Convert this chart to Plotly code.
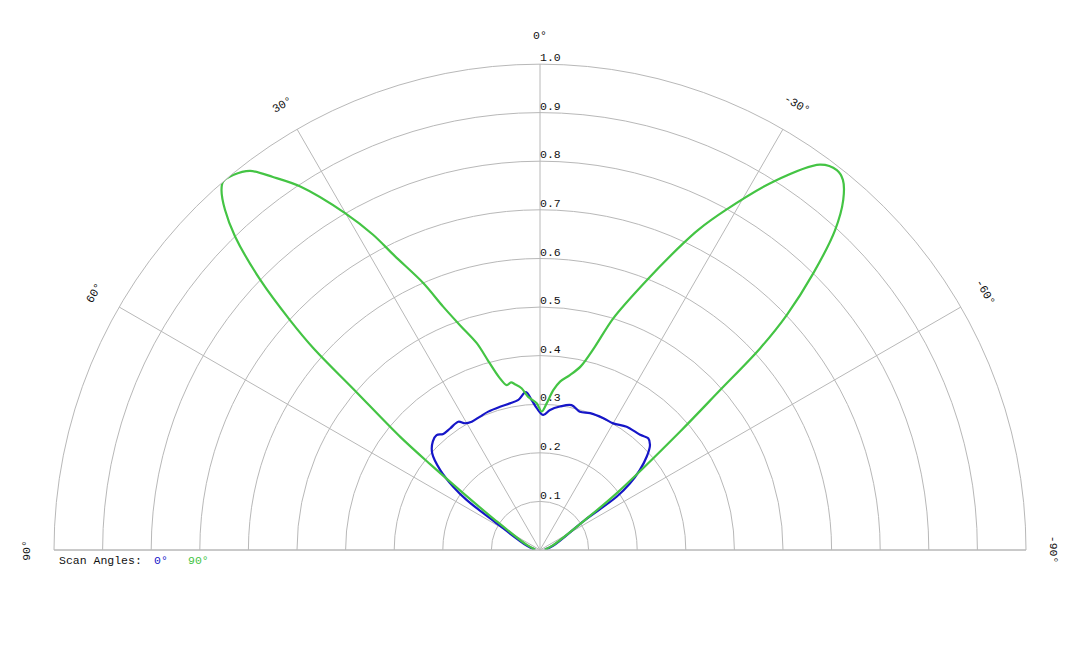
import math
import plotly.graph_objects as go

# scan angle 0 deg (blue)
theta_0 = [85, 72, 58.1, 55.7, 53.9, 51.3, 48.1, 44.6, 42.0, 39.8, 36.5, 32.5, 30.6, 28.0,
           24.2, 20.5, 15.6, 11.6, 8.2, 5.1, 3.2, 1.3, -1.4, -4.1, -7.9, -12.3, -16.1,
           -20.1, -25.7, -30.05, -35.1, -41.0, -44.1, -46.3, -48.8, -51.3, -53.5, -55.2,
           -56.3, -72, -85]
r_0 = [0.01, 0.028, 0.109, 0.183, 0.221, 0.263, 0.298, 0.314, 0.318, 0.311, 0.311, 0.313,
       0.303, 0.299, 0.301, 0.304, 0.306, 0.308, 0.312, 0.326, 0.309, 0.292, 0.278, 0.289,
       0.298, 0.305, 0.296, 0.300, 0.301, 0.301, 0.310, 0.314, 0.320, 0.313, 0.292, 0.263,
       0.230, 0.192, 0.111, 0.028, 0.01]

# scan angle 90 deg (green)
theta_90 = [85, 69, 56.3, 53.5, 52.0, 51.0, 49.3, 48.3, 47.4, 46.0, 44.2, 42.8, 41.5, 40.7,
            39.3, 37.4, 35.6, 33.4, 30.05, 27.9, 26.3, 23.6, 21.7, 19.6, 17.0, 15.3,
            13.3, 11.4, 9.8, 8.6, 6.5, 4.4, 1.3, -0.7, -2.6, -4.75, -6.8, -9.7, -12.5,
            -15.1, -17.55, -21.6, -25.05, -26.3, -28.6, -32.35, -36.0, -38.0, -39.3, -40.9,
            -42.7, -44.65, -46.4, -47.5, -48.4, -49.8, -53.5, -56.3, -70, -85]
r_90 = [0.01, 0.029, 0.111, 0.196, 0.287, 0.370, 0.498, 0.625, 0.699, 0.800, 0.900, 0.954,
        0.989, 1.0, 0.997, 0.982, 0.944, 0.896, 0.801, 0.734, 0.675, 0.599, 0.539,
        0.491, 0.445, 0.403, 0.365, 0.346, 0.350, 0.345, 0.335, 0.316, 0.302, 0.285, 0.302,
        0.330, 0.349, 0.365, 0.387, 0.433, 0.500, 0.597, 0.697, 0.735, 0.796, 0.897, 0.980,
        0.992, 0.984, 0.953, 0.895, 0.800, 0.701, 0.614, 0.495, 0.377, 0.196, 0.111, 0.028,
        0.01]

r_ticks = [0.1, 0.2, 0.3, 0.4, 0.5, 0.6, 0.7, 0.8, 0.9, 1.0]
r_tick_text = ["0.1", "0.2", "0.3", "0.4", "0.5", "0.6", "0.7", "0.8", "0.9", "1.0"]
angle_ticks = [90, 60, 30, 0, -30, -60, -90]
angle_text = ["90°", "60°", "30°", "0°", "-30°", "-60°", "-90°"]

BLUE = "#1616c8"
GREEN = "#44c444"
FONT = "Liberation Mono"

fig = go.Figure()
fig.add_trace(go.Scatterpolar(r=r_0, theta=theta_0, mode="lines",
                              line=dict(color=BLUE, width=2.2, shape="spline", smoothing=1.0)))
fig.add_trace(go.Scatterpolar(r=r_90, theta=theta_90, mode="lines",
                              line=dict(color=GREEN, width=2.2, shape="spline", smoothing=0.9)))
# radial labels along the 0 deg spoke
fig.add_trace(go.Scatterpolar(r=r_ticks, theta=[0] * len(r_ticks), mode="text",
                              text=r_tick_text, textposition="top right",
                              textfont=dict(family=FONT, size=11.5, color="#111")))

# page body adds 8px, so the margins are shifted to keep the centre at 540,550
fig.update_layout(
    width=1080, height=648,
    margin=dict(l=46, r=62, t=56, b=106),
    paper_bgcolor="white",
    showlegend=False,
    polar=dict(
        bgcolor="white",
        sector=[0, 180],
        domain=dict(x=[0, 1], y=[0, 1]),
        angularaxis=dict(rotation=90, direction="counterclockwise",
                         tickvals=angle_ticks, showticklabels=False, ticks="",
                         gridcolor="#b8b8b8", gridwidth=1,
                         linecolor="#b8b8b8", linewidth=1),
        radialaxis=dict(range=[0, 1], tickvals=r_ticks, showticklabels=False,
                        ticks="", showline=False, gridcolor="#b8b8b8", gridwidth=1),
    ),
)

# angle labels, rotated along the outer arc
anns = []
for a, txt in zip(angle_ticks, angle_text):
    rr = 1.058
    anns.append(dict(x=0.5 - 0.5 * rr * math.sin(math.radians(a)),
                     y=rr * math.cos(math.radians(a)),
                     xref="paper", yref="paper", text=txt, showarrow=False,
                     xanchor="center", yanchor="middle",
                     textangle=-a, font=dict(family=FONT, size=11.5, color="#111")))

# scan angle key (pixel positions, converted to paper fractions)
key = [("Scan Angles:", 57, "#111"), ("0°", 152, BLUE), ("90°", 186, GREEN)]
for txt, px, col in key:
    anns.append(dict(x=(px - 54) / 972, y=(550 - 560) / 486, xref="paper", yref="paper",
                     text=txt, showarrow=False, xanchor="left", yanchor="middle",
                     font=dict(family=FONT, size=11.5, color=col)))
fig.update_layout(annotations=anns)

fig.write_html("out.html")
